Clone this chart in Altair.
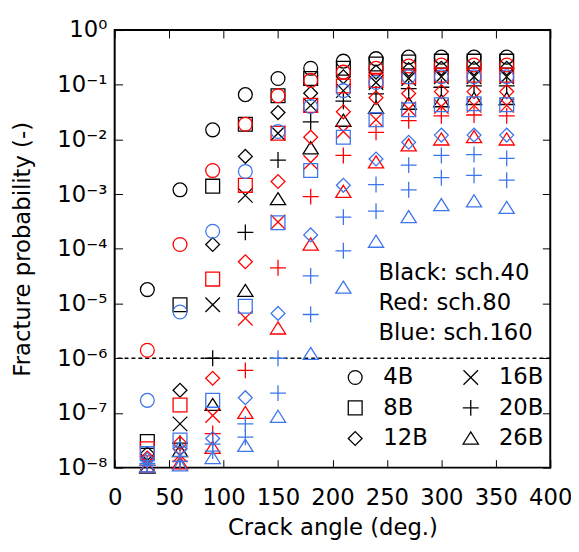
import altair as alt
import pandas as pd

angles = [30, 60, 90, 120, 150, 180, 210, 240, 270, 300, 330, 360]
sizes = ["4B", "8B", "12B", "16B", "20B", "26B"]
schedules = ["sch.40", "sch.80", "sch.160"]

# sch.40 (black)
b4 = [1.8e-5, 1.2e-3, 1.5e-2, 6.6e-2, 0.13, 0.2, 0.27, 0.30, 0.32, 0.32, 0.32, 0.32]
b8 = [3e-8, 9.5e-6, 1.4e-3, 1.9e-2, 6.3e-2, 0.13, 0.2, 0.24, 0.26, 0.27, 0.27, 0.27]
b12 = [1.8e-8, 2.6e-7, 1.2e-4, 4.9e-3, 3.1e-2, 7e-2, 0.14, 0.17, 0.19, 0.2, 0.2, 0.2]
b16 = [1.2e-8, 6.3e-8, 9.5e-6, 9.5e-4, 1.3e-2, 4.2e-2, 7.8e-2, 0.11, 0.13, 0.14, 0.14, 0.14]
b20 = [1.1e-8, 2.8e-8, 1e-6, 2e-4, 4.2e-3, 2.1e-2, 5e-2, 6.8e-2, 8.5e-2, 9e-2, 9.5e-2, 9.5e-2]
b26 = [1.0e-8, 2e-8, 1.4e-7, 1.7e-5, 8.1e-4, 6.9e-3, 2.2e-2, 3.8e-2, 4.5e-2, 5e-2, 5.5e-2, 5.5e-2]

# sch.80 (red)
r4 = [1.4e-6, 1.2e-4, 2.7e-3, 1.9e-2, 6.3e-2, 0.12, 0.17, 0.2, 0.22, 0.23, 0.23, 0.23]
r8 = [2.2e-8, 1.4e-7, 2.8e-5, 1.45e-3, 1.3e-2, 4.2e-2, 9.5e-2, 0.12, 0.14, 0.15, 0.15, 0.15]
r12 = [1.5e-8, 2.8e-8, 4.3e-7, 5.8e-5, 1.7e-3, 1.1e-2, 3.2e-2, 5.8e-2, 6.9e-2, 7.5e-2, 7.5e-2, 7.5e-2]
r16 = [1.2e-8, 1.7e-8, 9e-8, 5.4e-6, 3.1e-4, 3.8e-3, 1.4e-2, 2.3e-2, 3.6e-2, 4e-2, 4.2e-2, 4.2e-2]
r20 = [1.1e-8, 1.3e-8, 4.2e-8, 6e-7, 4.5e-5, 9e-4, 5.1e-3, 1.35e-2, 2.2e-2, 2.7e-2, 2.8e-2, 2.7e-2]
r26 = [1.05e-8, 1.2e-8, 2.3e-8, 1e-7, 3.5e-6, 1.2e-4, 1.1e-3, 3.8e-3, 7.8e-3, 1e-2, 1.1e-2, 1e-2]

# sch.160 (blue)
u4 = [1.7e-7, 7e-6, 2.1e-4, 2.6e-3, 1.4e-2, 4e-2, 7.8e-2, 0.11, 0.14, 0.14, 0.14, 0.14]
u8 = [1.8e-8, 3.2e-8, 1.7e-7, 8.9e-6, 3e-4, 2.7e-3, 1.1e-2, 2.3e-2, 3.5e-2, 4.3e-2, 4.5e-2, 4.3e-2]
u12 = [1.4e-8, 2.2e-8, 3.4e-8, 1.9e-7, 6.6e-6, 1.8e-4, 1.45e-3, 4.4e-3, 8.9e-3, 1.2e-2, 1.2e-2, 1.2e-2]
u16 = [1.2e-8, 1.6e-8, 2.7e-8, 6.3e-8, 1e-6, 3.2e-5, 3.8e-4, 1.5e-3, 3.4e-3, 5.1e-3, 5.3e-3, 4.5e-3]
u20 = [1.1e-8, 1.3e-8, 2e-8, 3.6e-8, 2.3e-7, 6.3e-6, 9.2e-5, 4.9e-4, 1.2e-3, 2e-3, 2.2e-3, 1.8e-3]
u26 = [1.05e-8, 1.1e-8, 1.5e-8, 2.5e-8, 8.5e-8, 1.2e-6, 1.95e-5, 1.35e-4, 3.8e-4, 6.3e-4, 7.4e-4, 5.6e-4]

x_ticks = [0, 50, 100, 150, 200, 250, 300, 350, 400]
y_ticks = [1e-8, 1e-7, 1e-6, 1e-5, 1e-4, 1e-3, 1e-2, 1e-1, 1e0]
threshold = [1e-6]
note_lines = ["Black: sch.40", "Red: sch.80", "Blue: sch.160"]

BLACK, RED, BLUE = "#000000", "#ff0000", "#3d76ea"
FONT = "DejaVu Sans"
FS = 23

CROSS = "M-1.05,-1.05L1.05,1.05M-1.05,1.05L1.05,-1.05"
PLUS = "M-1.15,0L1.15,0M0,-1.15L0,1.15"
TRI = "M0,-0.95L1.1,0.8L-1.1,0.8Z"

series = {
    "sch.40": [b4, b8, b12, b16, b20, b26],
    "sch.80": [r4, r8, r12, r16, r20, r26],
    "sch.160": [u4, u8, u12, u16, u20, u26],
}
rows = []
for sch in schedules:
    for size, vals in zip(sizes, series[sch]):
        for a, v in zip(angles, vals):
            rows.append({"angle": a, "prob": v, "size": size, "sch": sch})
df = pd.DataFrame(rows)
main_df = df[~((df["sch"] == "sch.160") & (df["size"] == "16B"))]
blue16_df = df[(df["sch"] == "sch.160") & (df["size"] == "16B")]

xscale = alt.Scale(domain=[0, 400], nice=False)
yscale = alt.Scale(type="log", domain=[1e-8, 1], nice=False)

SUP = "⁰¹²³⁴⁵⁶⁷⁸⁹"
label_expr = (
    "'10' + (datum.value >= 0.5 ? '" + SUP[0] + "' : '⁻' + substring('" + SUP +
    "', round(-log(datum.value)/LN10), round(-log(datum.value)/LN10) + 1))"
)

common_axis = dict(tickSize=8, offset=-8, domain=False, tickColor="black", tickWidth=1,
                   grid=False, labelFont=FONT, labelFontSize=FS, labelColor="black",
                   titleFont=FONT, titleFontSize=FS, titleFontWeight="normal", titleColor="black")

x_axis = alt.Axis(values=x_ticks, labelPadding=19, labelFlush=False, labelOverlap=False,
                  title="Crack angle (deg.)", titlePadding=8, **common_axis)
y_axis = alt.Axis(values=y_ticks, labelExpr=label_expr, labelPadding=8, labelOverlap=False,
                  labelFlush=False, title="Fracture probability (-)", titlePadding=23, **common_axis)
x_top = alt.Axis(orient="top", values=x_ticks, labels=False, title=None, **common_axis)
y_right = alt.Axis(orient="right", values=y_ticks, labels=False, title=None, **common_axis)

shape_domain = ["4B", "8B", "12B", "16B", "20B", "26B"]
shape_range = ["circle", "square", "diamond", CROSS, PLUS, TRI]

points = alt.Chart(main_df).mark_point(filled=False, size=196, strokeWidth=1.3, opacity=1).encode(
    x=alt.X("angle:Q", scale=xscale, axis=x_axis),
    y=alt.Y("prob:Q", scale=yscale, axis=y_axis),
    color=alt.Color("sch:N", scale=alt.Scale(domain=schedules, range=[BLACK, RED, BLUE]), legend=None),
    shape=alt.Shape("size:N", scale=alt.Scale(domain=shape_domain, range=shape_range),
                    legend=alt.Legend(orient="none", legendX=232, legendY=340, columns=2, title=None,
                                      labelFont=FONT, labelFontSize=FS, labelColor="black",
                                      symbolSize=196, symbolStrokeWidth=1.3, symbolStrokeColor="black",
                                      symbolFillColor="transparent", labelOffset=17,
                                      columnPadding=31, rowPadding=7, padding=0)),
)

blue16 = alt.Chart(blue16_df).mark_point(filled=False, size=196, strokeWidth=1.3, opacity=1,
                                         shape=PLUS, color=BLUE).encode(
    x=alt.X("angle:Q", scale=xscale, axis=None),
    y=alt.Y("prob:Q", scale=yscale, axis=None),
)

rule = alt.Chart(pd.DataFrame({"p": threshold})).mark_rule(
    color="black", strokeWidth=1.5, strokeDash=[4, 3]).encode(
    y=alt.Y("p:Q", scale=yscale, axis=None))

note = alt.Chart(pd.DataFrame({"t": ["\n".join(note_lines)]})).mark_text(
    align="left", baseline="middle", font=FONT, fontSize=FS, color="black",
    lineBreak="\n", lineHeight=30.5).encode(
    x=alt.value(267), y=alt.value(246), text="t:N")

frame = alt.Chart(main_df).mark_point(opacity=0).encode(
    x=alt.X("angle:Q", scale=xscale, axis=x_top),
    y=alt.Y("prob:Q", scale=yscale, axis=y_right),
)

chart = alt.layer(rule, points, blue16, note, frame).resolve_axis(
    x="independent", y="independent"
).properties(
    width=441, height=443,
    autosize=alt.AutoSizeParams(type="none"),
    padding={"left": 108, "top": 19, "right": 21, "bottom": 75},
).configure_view(stroke="black", strokeWidth=2).configure_legend(
    symbolBaseStrokeColor="black")

chart.save("out.html", embed_options={"renderer": "svg", "actions": False})
